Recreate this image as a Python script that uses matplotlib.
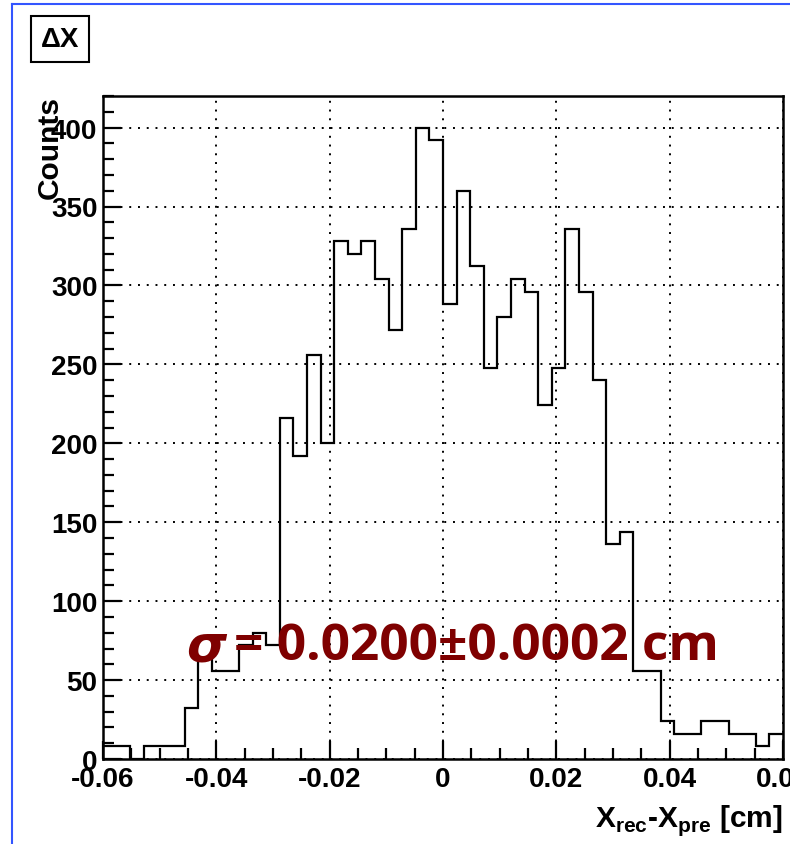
import numpy as np
import matplotlib
matplotlib.use("Agg")
import matplotlib.pyplot as plt
from matplotlib.ticker import MultipleLocator, FuncFormatter
from matplotlib.lines import Line2D

# ---- data ----
x_min, x_max, n_bins = -0.06, 0.06, 50
counts = [8, 8, 0, 8, 8, 8, 32, 64, 56, 56,
          72, 80, 72, 216, 192, 256, 200, 328, 320, 328,
          304, 272, 336, 400, 392, 288, 360, 312, 248, 280,
          304, 296, 224, 248, 336, 296, 240, 136, 144, 56,
          56, 24, 16, 16, 24, 24, 16, 16, 8, 16]
title_text = "ΔX"
fit_text = "= 0.0200±0.0002 cm"
xlabel = r"X$_{\mathbf{rec}}$-X$_{\mathbf{pre}}$ [cm]"
ylabel = "Counts"

plt.rcParams['font.family'] = ['Liberation Sans', 'DejaVu Sans']
plt.rcParams['mathtext.fontset'] = 'custom'
plt.rcParams['mathtext.rm'] = 'Liberation Sans:bold'
plt.rcParams['mathtext.bf'] = 'Liberation Sans:bold'

fig = plt.figure(figsize=(7.9, 8.45), dpi=100)
W, H = 790, 845
ax = fig.add_axes([103 / W, 1 - 760 / H, 680 / W, (760 - 97) / H])

edges = np.linspace(x_min, x_max, n_bins + 1)
ax.stairs(counts, edges, color='black', linewidth=1.6, baseline=None, zorder=3)

ax.set_xlim(x_min, x_max)
ax.set_ylim(0, 420)

ax.xaxis.set_major_locator(MultipleLocator(0.02))
ax.xaxis.set_minor_locator(MultipleLocator(0.005))
ax.yaxis.set_major_locator(MultipleLocator(50))
ax.yaxis.set_minor_locator(MultipleLocator(10))

def xfmt(v, pos):
    if abs(v) < 1e-9:
        return "0"
    return f"{v:.2f}"
ax.xaxis.set_major_formatter(FuncFormatter(xfmt))

ax.tick_params(which='both', direction='in', top=False, right=False)
ax.tick_params(which='major', length=13, width=1.6)
ax.tick_params(which='minor', length=8, width=1.6)
ax.tick_params(axis='x', which='major', labelsize=20, pad=5)
ax.tick_params(axis='y', which='major', labelsize=20, pad=4)
for lab in ax.get_xticklabels() + ax.get_yticklabels():
    lab.set_fontweight('bold')

for s in ax.spines.values():
    s.set_linewidth(1.8)

ax.grid(True, which='major', color='black', linestyle=(0, (1, 3.5)), linewidth=1.4)

# axis titles
fig.text(783 / W, 1 - 821 / H, xlabel, ha='right', va='center', fontsize=21.5,
         fontweight='bold')
fig.text(50 / W, 1 - 96 / H, ylabel, ha='center', va='top', rotation=90,
         fontsize=21.5, fontweight='bold')

# fit result text
fig.text(186 / W, 1 - 647 / H, "σ", ha='left', va='center', fontsize=37,
         color='#7f0000', fontweight='bold', style='italic',
         family=['DejaVu Sans'])
fig.text(234 / W, 1 - 647 / H, fit_text, ha='left', va='center', fontsize=37,
         color='#7f0000', fontweight='bold', family=['Open Sans', 'DejaVu Sans'])

# title box
fig.text(60 / W, 1 - 40 / H, title_text, ha='center', va='center', fontsize=20,
         fontweight='bold',
         bbox=dict(boxstyle='square,pad=0.35', facecolor='white', edgecolor='black',
                   linewidth=1.5))

# blue canvas border (top and left visible)
fig.add_artist(Line2D([12 / W, 1.0], [1 - 5 / H, 1 - 5 / H], color='#3355ff',
                      linewidth=1.5, transform=fig.transFigure))
fig.add_artist(Line2D([12 / W, 12 / W], [0.0, 1 - 5 / H], color='#3355ff',
                      linewidth=1.5, transform=fig.transFigure))

fig.savefig("out.png", dpi=100)
